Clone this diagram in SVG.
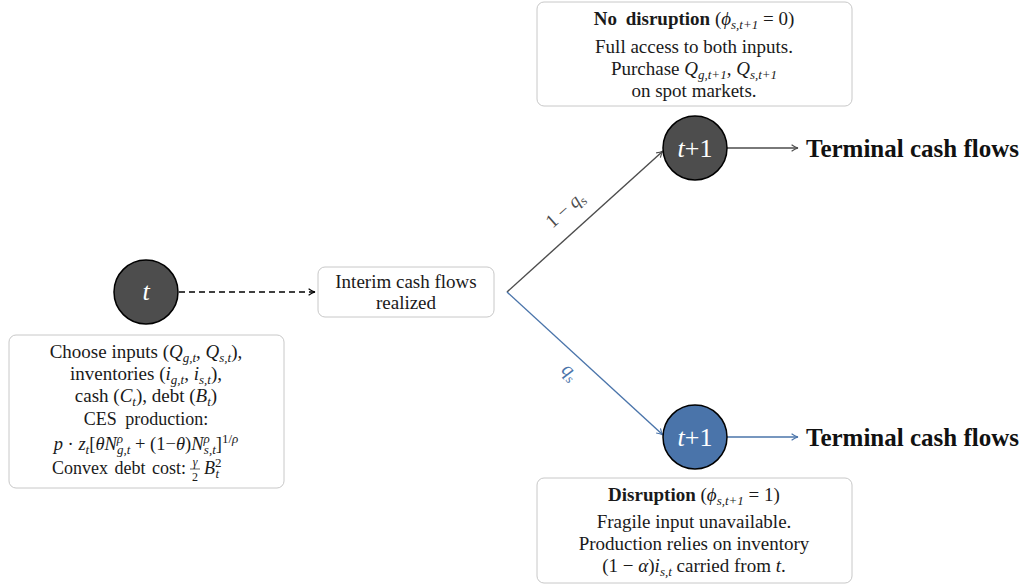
<svg xmlns="http://www.w3.org/2000/svg" width="1029" height="585" viewBox="0 0 1029 585">
<defs>
<marker id="ag" viewBox="0 0 10 10" refX="9" refY="5" markerWidth="8" markerHeight="8" markerUnits="userSpaceOnUse" orient="auto"><path d="M1,1 Q5,4 9,5 Q5,6 1,9" fill="none" stroke="#4d4d4d" stroke-width="1.4"/></marker>
<marker id="ak" viewBox="0 0 10 10" refX="9" refY="5" markerWidth="8" markerHeight="8" markerUnits="userSpaceOnUse" orient="auto"><path d="M1,1 Q5,4 9,5 Q5,6 1,9" fill="none" stroke="#000" stroke-width="1.4"/></marker>
<marker id="ab" viewBox="0 0 10 10" refX="9" refY="5" markerWidth="8" markerHeight="8" markerUnits="userSpaceOnUse" orient="auto"><path d="M1,1 Q5,4 9,5 Q5,6 1,9" fill="none" stroke="#4a74aa" stroke-width="1.4"/></marker>
</defs>
<style>
text{font-family:"Liberation Serif","DejaVu Serif",serif;fill:#1a1a1a;}
.t{font-size:19px;text-anchor:middle;}
.s{font-size:18px;text-anchor:middle;}
.i{font-style:italic;}
.sub{font-size:13px;}
.box{fill:#fff;stroke:#c8c8c8;stroke-width:1;}
.node{stroke:#000;stroke-width:1.5;}
.nt{font-size:26px;fill:#fff;text-anchor:middle;font-style:italic;}
.term{font-size:25px;font-weight:bold;fill:#111;}
</style>
<rect width="1029" height="585" fill="#fff"/>

<g id="connectors">
<line x1="179" y1="292" x2="315" y2="292" stroke="#000" stroke-width="1.6" stroke-dasharray="6,4" marker-end="url(#ak)"/>
<line x1="507" y1="292" x2="663" y2="151" stroke="#4d4d4d" stroke-width="1.4" marker-end="url(#ag)"/>
<line x1="507" y1="292" x2="663" y2="435" stroke="#4a74aa" stroke-width="1.4" marker-end="url(#ab)"/>
<line x1="727" y1="148" x2="798" y2="148" stroke="#4d4d4d" stroke-width="1.4" marker-end="url(#ag)"/>
<line x1="727" y1="437" x2="798" y2="437" stroke="#4a74aa" stroke-width="1.4" marker-end="url(#ab)"/>
<text transform="translate(569,214) rotate(-42)" style="font-size:19px;text-anchor:middle;fill:#4d4d4d">1 − <tspan class="i" style="fill:#4d4d4d">q</tspan><tspan class="sub" dy="4" style="fill:#4d4d4d">s</tspan></text>
<text transform="translate(566,376) rotate(42)" style="font-size:20px;text-anchor:middle;fill:#4a74aa;font-style:italic">q<tspan class="sub" dy="4" style="fill:#4a74aa">s</tspan></text>
</g>

<g id="node-t">
<circle class="node" cx="146" cy="292" r="32" fill="#4d4d4d"/>
<text class="nt" x="146" y="300">t</text>
</g>

<g id="node-t-box">
<rect class="box" x="9" y="335" width="275" height="153" rx="7"/>
<text class="t" x="146" y="358">Choose inputs (<tspan class="i">Q</tspan><tspan class="sub i" dy="4">g,t</tspan><tspan dy="-4">, </tspan><tspan class="i">Q</tspan><tspan class="sub i" dy="4">s,t</tspan><tspan dy="-4">),</tspan></text>
<text class="t" x="146" y="380">inventories (<tspan class="i">i</tspan><tspan class="sub i" dy="4">g,t</tspan><tspan dy="-4">, </tspan><tspan class="i">i</tspan><tspan class="sub i" dy="4">s,t</tspan><tspan dy="-4">),</tspan></text>
<text class="t" x="146" y="402">cash (<tspan class="i">C</tspan><tspan class="sub i" dy="4">t</tspan><tspan dy="-4">), debt (</tspan><tspan class="i">B</tspan><tspan class="sub i" dy="4">t</tspan><tspan dy="-4">)</tspan></text>
<text class="s" x="146" y="425" word-spacing="4">CES production:</text>
<text class="s" x="146" y="450" style="font-size:18.5px"><tspan class="i">p</tspan> · <tspan class="i">z</tspan><tspan class="sub i" dy="4">t</tspan><tspan dy="-4">[</tspan><tspan class="i">θN</tspan><tspan class="sub i" dy="-7">ρ</tspan><tspan class="sub i" dx="-6" dy="11">g,t</tspan><tspan dy="-4"> + (1−</tspan><tspan class="i">θ</tspan>)<tspan class="i">N</tspan><tspan class="sub i" dy="-7">ρ</tspan><tspan class="sub i" dx="-6" dy="11">s,t</tspan><tspan dy="-4">]</tspan><tspan class="sub" dy="-7">1/</tspan><tspan class="sub i">ρ</tspan></text>
<text x="186" y="474" style="font-size:18px;text-anchor:end" word-spacing="2">Convex debt cost:</text>
<text x="195" y="466" font-size="12" font-style="italic" text-anchor="middle">γ</text>
<line x1="190" y1="469" x2="200" y2="469" stroke="#1a1a1a" stroke-width="0.7"/>
<text x="195" y="481" font-size="12" text-anchor="middle">2</text>
<text x="204" y="474" font-size="18" font-style="italic">B<tspan class="sub" dy="-7" font-style="normal">2</tspan><tspan class="sub" dx="-6" dy="11">t</tspan></text>
</g>

<g id="node-interim">
<rect class="box" x="318" y="267" width="176" height="50" rx="7"/>
<text class="t" x="406" y="288">Interim cash flows</text>
<text class="t" x="406" y="309">realized</text>
</g>

<g id="node-t1-up">
<circle class="node" cx="695" cy="148" r="32" fill="#4d4d4d"/>
<text class="nt" x="695" y="157">t<tspan font-style="normal">+1</tspan></text>
</g>

<g id="node-t1-down">
<circle class="node" cx="695" cy="437" r="32" fill="#4a74aa"/>
<text class="nt" x="695" y="446">t<tspan font-style="normal">+1</tspan></text>
</g>

<g id="term-up"><text class="term" x="806" y="157">Terminal cash flows</text></g>
<g id="term-down"><text class="term" x="806" y="446">Terminal cash flows</text></g>

<g id="box-nodisruption">
<rect class="box" x="537" y="2" width="315" height="104" rx="7"/>
<text class="t" x="694" y="25"><tspan font-weight="bold" word-spacing="4">No disruption</tspan> (<tspan class="i">ϕ</tspan><tspan class="sub i" dy="4">s,t+1</tspan><tspan dy="-4"> = 0)</tspan></text>
<text class="t" x="694" y="53">Full access to both inputs.</text>
<text class="t" x="694" y="75">Purchase <tspan class="i">Q</tspan><tspan class="sub i" dy="4">g,t+1</tspan><tspan dy="-4">, </tspan><tspan class="i">Q</tspan><tspan class="sub i" dy="4">s,t+1</tspan></text>
<text class="t" x="694" y="97">on spot markets.</text>
</g>

<g id="box-disruption">
<rect class="box" x="537" y="478" width="315" height="105" rx="7"/>
<text class="t" x="694" y="501"><tspan font-weight="bold">Disruption</tspan> (<tspan class="i">ϕ</tspan><tspan class="sub i" dy="4">s,t+1</tspan><tspan dy="-4"> = 1)</tspan></text>
<text class="t" x="694" y="528">Fragile input unavailable.</text>
<text class="t" x="694" y="550">Production relies on inventory</text>
<text class="t" x="694" y="572">(1 − <tspan class="i">α</tspan>)<tspan class="i">i</tspan><tspan class="sub i" dy="4">s,t</tspan><tspan dy="-4"> carried from </tspan><tspan class="i">t</tspan>.</text>
</g>
</svg>
